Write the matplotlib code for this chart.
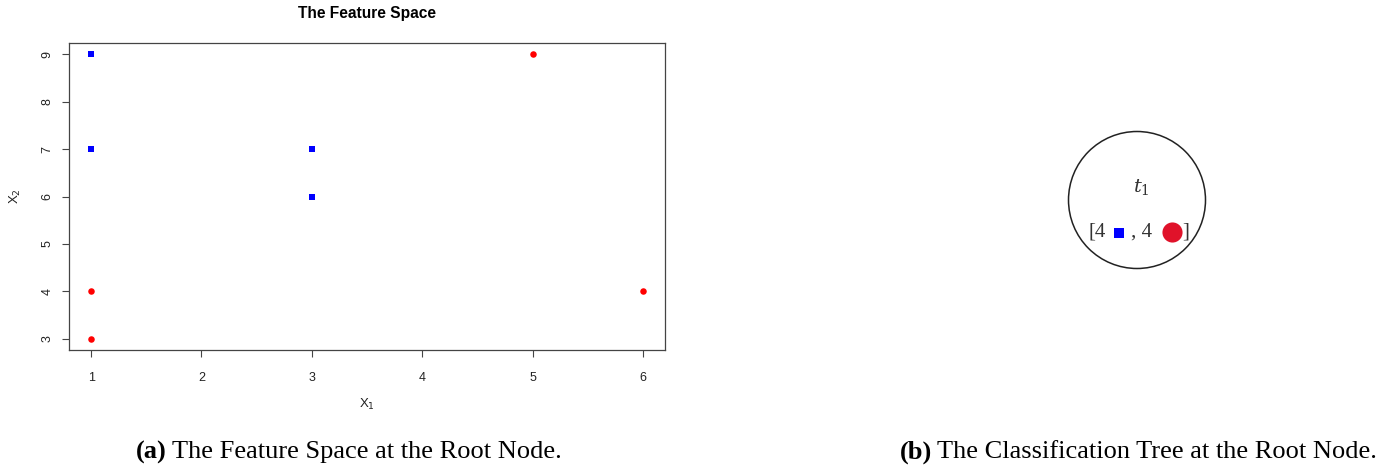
import matplotlib
matplotlib.use("Agg")
import matplotlib.pyplot as plt
from matplotlib.patches import Circle

# Training points in the feature space
square_x1 = [1, 1, 3, 3]
square_x2 = [9, 7, 7, 6]
circle_x1 = [5, 1, 1, 6]
circle_x2 = [9, 4, 3, 4]

x_ticks = [1, 2, 3, 4, 5, 6]
y_ticks = [3, 4, 5, 6, 7, 8, 9]

n_square = len(square_x1)
n_circle = len(circle_x1)

W, H = 1397, 472
DPI = 100
fig = plt.figure(figsize=(W / DPI, H / DPI), dpi=DPI)

def px_axes(left, top, right, bottom):
    return fig.add_axes([left / W, 1 - bottom / H, (right - left) / W, (bottom - top) / H])

sans = "Liberation Sans"
serif = "Liberation Serif"

# ---- (a) scatter plot of the feature space ----
ax = px_axes(69, 43, 665, 350)
ax.scatter(square_x1, square_x2, marker="s", s=20, color="blue", linewidths=0, zorder=3)
ax.scatter(circle_x1, circle_x2, marker="o", s=22, color="red", linewidths=0, zorder=3)

def padded(lo, hi):
    d = (hi - lo) * 0.04
    return lo - d, hi + d

ax.set_xlim(*padded(min(x_ticks), max(x_ticks)))
ax.set_ylim(*padded(min(y_ticks), max(y_ticks)))
ax.set_xticks(x_ticks)
ax.set_yticks(y_ticks)
ax.set_xticklabels([str(t) for t in x_ticks], fontfamily=sans, fontsize=9, color="#222222")
ax.set_yticklabels([str(t) for t in y_ticks], fontfamily=sans, fontsize=9, color="#222222",
                   rotation=90, va="center")
ax.tick_params(axis="both", direction="out", length=5, width=0.8, color="#444444")
ax.tick_params(axis="x", pad=11)
ax.tick_params(axis="y", pad=6)
for sp in ax.spines.values():
    sp.set_linewidth(0.9)
    sp.set_color("#444444")

ax.set_xlabel("X$_1$", fontfamily=sans, fontsize=9.5, labelpad=9, color="#222222")
ax.set_ylabel("X$_2$", fontfamily=sans, fontsize=9.5, labelpad=13.5, color="#222222")
ax.set_title("The Feature Space", fontfamily=sans, fontsize=11.2, fontweight="bold", pad=18)

# ---- overlay in pixel coordinates for captions and the tree node ----
ov = fig.add_axes([0, 0, 1, 1])
ov.set_xlim(0, W)
ov.set_ylim(H, 0)
ov.axis("off")
ov.patch.set_alpha(0)

fig.canvas.draw()
r = fig.canvas.get_renderer()

def caption(x0, tag, body):
    t = ov.text(x0, 452, tag, fontfamily=serif, fontsize=19, fontweight="bold",
                va="center", ha="left")
    bb = t.get_window_extent(r)
    ov.text(x0 + bb.width + 5, 452, body, fontfamily=serif, fontsize=19,
            va="center", ha="left")

caption(136, "(a)", "The Feature Space at the Root Node.")
caption(900, "(b)", "The Classification Tree at the Root Node.")

# Root node of the classification tree
ov.add_patch(Circle((1137, 200), 68.5, fill=False, edgecolor="#222222", linewidth=1.1))
ov.text(1141, 187, "$t_1$", fontsize=14, ha="center", va="center", color="#333333",
        math_fontfamily="dejavuserif")
ov.text(1089, 232, f"[{n_square}", fontfamily=serif, fontsize=15, ha="left", va="center",
        color="#333333")
ov.scatter([1119], [233], marker="s", s=55, color="blue", linewidths=0)
ov.text(1131, 232, f", {n_circle}", fontfamily=serif, fontsize=15, ha="left", va="center",
        color="#333333")
ov.scatter([1172], [232], marker="o", s=210, color="#e0122a", linewidths=0)
ov.text(1182, 232, "]", fontfamily=serif, fontsize=15, ha="left", va="center",
        color="#333333")

fig.savefig("out.png", dpi=DPI)
